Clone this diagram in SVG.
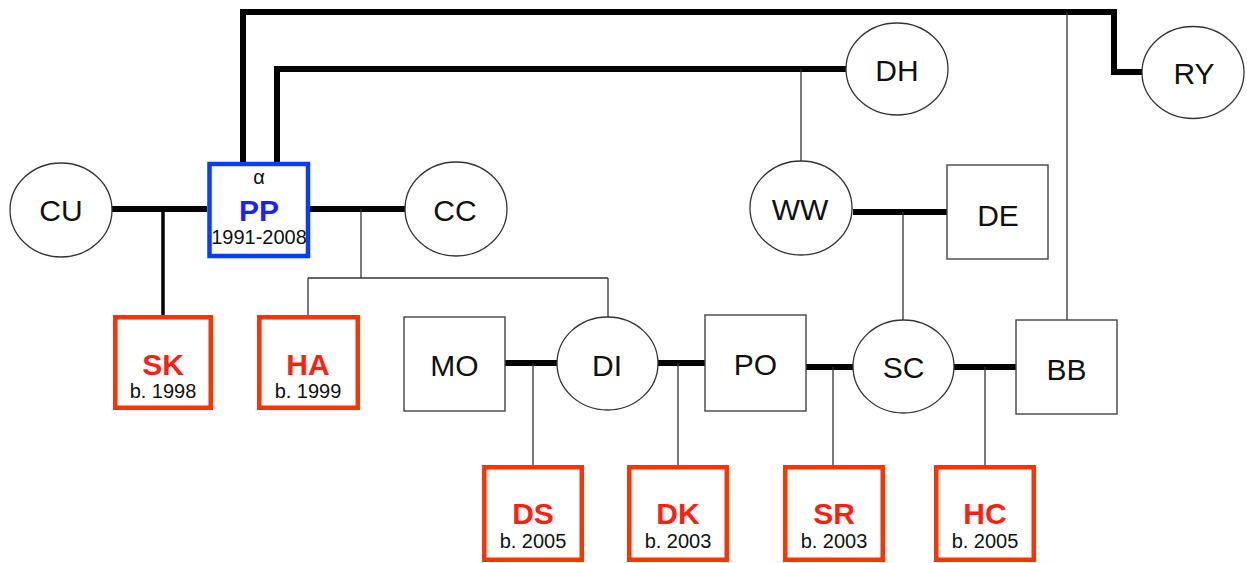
<svg xmlns="http://www.w3.org/2000/svg" width="1247" height="563" viewBox="0 0 1247 563">
<style>
.oval{fill:#fff;stroke:#333;stroke-width:1.3}
.box{fill:#fff;stroke:#444;stroke-width:1.4}
.kid{fill:#fff;stroke:#ff3300;stroke-width:4.5}
.me{fill:#fff;stroke:#0a3cff;stroke-width:4.5}
.lbl{font-family:"Liberation Sans",Arial,sans-serif;font-size:30px;fill:#111;text-anchor:middle}
.kname{font-family:"Liberation Sans",Arial,sans-serif;font-size:30px;font-weight:bold;fill:#ff1e12;text-anchor:middle}
.pname{font-family:"Liberation Sans",Arial,sans-serif;font-size:30px;font-weight:bold;fill:#1a22ff;text-anchor:middle}
.yr{font-family:"Liberation Sans",Arial,sans-serif;font-size:20px;fill:#111;text-anchor:middle}
.thick{fill:none;stroke:#000;stroke-width:6}
.mid{fill:none;stroke:#000;stroke-width:3.5}
.thin{fill:none;stroke:#333;stroke-width:1.3}
</style>
<g id="connectors">
<path class="thick" d="M243,162 V12 H1114 V72 H1142"/>
<path class="thick" d="M277,162 V69 H846"/>
<path class="thin" d="M1067,12 V320"/>
<path class="thin" d="M801,69 V161"/>
<path class="thick" d="M112,209 H207"/>
<path class="mid" d="M163,209 V315"/>
<path class="thick" d="M310,209 H405"/>
<path class="thin" d="M361,209 V278 M308,278 H608 M308,278 V315 M608,278 V317"/>
<path class="thick" d="M853,212 H947"/>
<path class="thin" d="M903,212 V320"/>
<path class="thick" d="M505,363 H557"/>
<path class="thin" d="M533,363 V465"/>
<path class="thick" d="M658,363 H705"/>
<path class="thin" d="M678,363 V465"/>
<path class="thick" d="M806,367 H853"/>
<path class="thin" d="M833,367 V465"/>
<path class="thick" d="M954,367 H1016"/>
<path class="thin" d="M985,367 V465"/>
</g>
<g id="CU"><ellipse class="oval" cx="61" cy="210" rx="51" ry="47"/><text class="lbl" x="61" y="221">CU</text></g>
<g id="PP"><rect class="me" x="209.5" y="164" width="98.5" height="92"/><text class="yr" x="259" y="184">α</text><text class="pname" x="259" y="221">PP</text><text class="yr" x="259" y="244">1991-2008</text></g>
<g id="CC"><ellipse class="oval" cx="456" cy="209" rx="51" ry="47"/><text class="lbl" x="455" y="221">CC</text></g>
<g id="DH"><ellipse class="oval" cx="897" cy="69" rx="51" ry="46"/><text class="lbl" x="897" y="81">DH</text></g>
<g id="RY"><ellipse class="oval" cx="1193" cy="72.5" rx="51" ry="46"/><text class="lbl" x="1194" y="84">RY</text></g>
<g id="WW"><ellipse class="oval" cx="801" cy="208" rx="51" ry="47"/><text class="lbl" x="800" y="220">WW</text></g>
<g id="DE"><rect class="box" x="947" y="165" width="101" height="94"/><text class="lbl" x="998" y="226">DE</text></g>
<g id="SK"><rect class="kid" x="115.25" y="317.25" width="95.5" height="90.5"/><text class="kname" x="163" y="375">SK</text><text class="yr" x="163" y="398">b. 1998</text></g>
<g id="HA"><rect class="kid" x="259.25" y="317.25" width="98.5" height="90.5"/><text class="kname" x="308" y="375">HA</text><text class="yr" x="308" y="398">b. 1999</text></g>
<g id="MO"><rect class="box" x="404" y="317" width="101" height="94"/><text class="lbl" x="454.5" y="376">MO</text></g>
<g id="DI"><ellipse class="oval" cx="607.5" cy="363.5" rx="50.5" ry="46.5"/><text class="lbl" x="607" y="376">DI</text></g>
<g id="PO"><rect class="box" x="705" y="315" width="101" height="96"/><text class="lbl" x="755.5" y="375">PO</text></g>
<g id="SC"><ellipse class="oval" cx="903.5" cy="366.5" rx="50.5" ry="46.5"/><text class="lbl" x="903.5" y="378">SC</text></g>
<g id="BB"><rect class="box" x="1016" y="320" width="101" height="94"/><text class="lbl" x="1066.5" y="380">BB</text></g>
<g id="DS"><rect class="kid" x="484.25" y="467.25" width="97.5" height="92.5"/><text class="kname" x="533" y="524">DS</text><text class="yr" x="533" y="548">b. 2005</text></g>
<g id="DK"><rect class="kid" x="629.25" y="467.25" width="97.5" height="92.5"/><text class="kname" x="678" y="524">DK</text><text class="yr" x="678" y="548">b. 2003</text></g>
<g id="SR"><rect class="kid" x="785.25" y="467.25" width="97.5" height="92.5"/><text class="kname" x="834" y="524">SR</text><text class="yr" x="834" y="548">b. 2003</text></g>
<g id="HC"><rect class="kid" x="936.25" y="467.25" width="97.5" height="92.5"/><text class="kname" x="985" y="524">HC</text><text class="yr" x="985" y="548">b. 2005</text></g>
</svg>
